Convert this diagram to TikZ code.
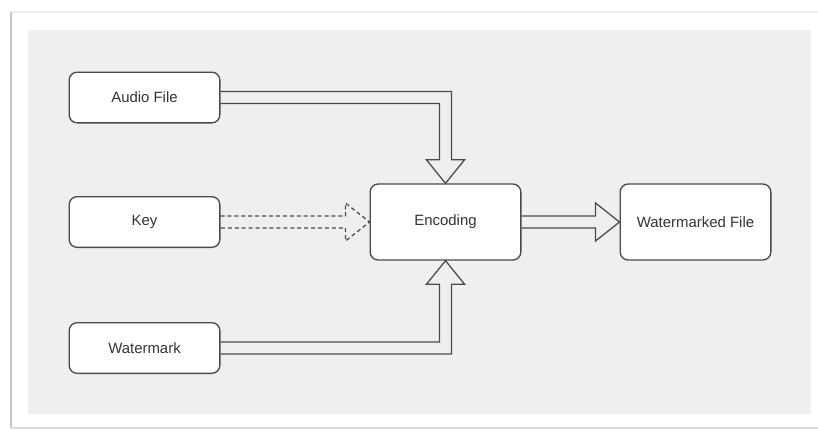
\documentclass[tikz,border=0pt]{standalone}
\usepackage{fontspec}
\setmainfont{Liberation Sans}
\usetikzlibrary{calc}
\definecolor{panel}{HTML}{EFEFEF}
\definecolor{edge}{HTML}{4A4A4A}
\definecolor{txt}{HTML}{333333}
\begin{document}
\begin{tikzpicture}[x=0.75pt,y=-0.75pt,
  box/.style={draw=edge,fill=white,rounded corners=6pt,line width=1pt,
    minimum width=113pt,font=\fontsize{11.2}{13}\selectfont,text=txt,inner sep=0pt},
  smallbox/.style={box,minimum height=38pt},
  bigbox/.style={box,minimum width=113pt,minimum height=57pt},
  arr/.style={draw=edge,line width=0.95pt,line join=miter},
  dasharr/.style={arr,dash pattern=on 3pt off 2.2pt}]
\useasboundingbox (0,0) rectangle (818,430);
\fill[white] (0,0) rectangle (818,430);
% card shadow
\draw[draw=black!7,line width=1.5pt] (11,12) -- (818,12);
\draw[draw=black!22,line width=2pt] (11,12) -- (11,428);
\draw[draw=black!14,line width=1.5pt] (11,428) -- (818,428);
% panel
\fill[panel] (28,30) rectangle (811,414);
% nodes
\node[smallbox] (audio) at (144.5,97.5) {Audio File};
\node[smallbox] (key) at (144.5,222) {Key};
\node[smallbox] (wm) at (144.5,348) {Watermark};
\node[bigbox] (enc) at (445.5,222) {Encoding};
\node[bigbox] (wmf) at (695.5,222) {Watermarked File};
% Audio -> Encoding
\draw[arr] ($(audio.east)+(0,-6)$) -- ($(enc.north |- audio.east)+(6,-6)$)
  -- ($(enc.north)+(6,-23.5)$) -- ($(enc.north)+(19,-23.5)$) -- (enc.north)
  -- ($(enc.north)+(-19,-23.5)$) -- ($(enc.north)+(-6,-23.5)$)
  -- ($(enc.north |- audio.east)+(-6,6)$) -- ($(audio.east)+(0,6)$);
% Watermark -> Encoding
\draw[arr] ($(wm.east)+(0,-6)$) -- ($(enc.south |- wm.east)+(-6,-6)$)
  -- ($(enc.south)+(-6,23.5)$) -- ($(enc.south)+(-19,23.5)$) -- (enc.south)
  -- ($(enc.south)+(19,23.5)$) -- ($(enc.south)+(6,23.5)$)
  -- ($(enc.south |- wm.east)+(6,6)$) -- ($(wm.east)+(0,6)$);
% Key -> Encoding (dashed)
\draw[dasharr] ($(key.east)+(0,-6)$) -- ($(enc.west)+(-24,-6)$)
  -- ($(enc.west)+(-24,-19)$) -- (enc.west) -- ($(enc.west)+(-24,19)$)
  -- ($(enc.west)+(-24,6)$) -- ($(key.east)+(0,6)$);
% Encoding -> Watermarked File
\draw[arr] ($(enc.east)+(0,-6)$) -- ($(wmf.west)+(-24,-6)$)
  -- ($(wmf.west)+(-24,-19)$) -- (wmf.west) -- ($(wmf.west)+(-24,19)$)
  -- ($(wmf.west)+(-24,6)$) -- ($(enc.east)+(0,6)$);
\end{tikzpicture}
\end{document}
